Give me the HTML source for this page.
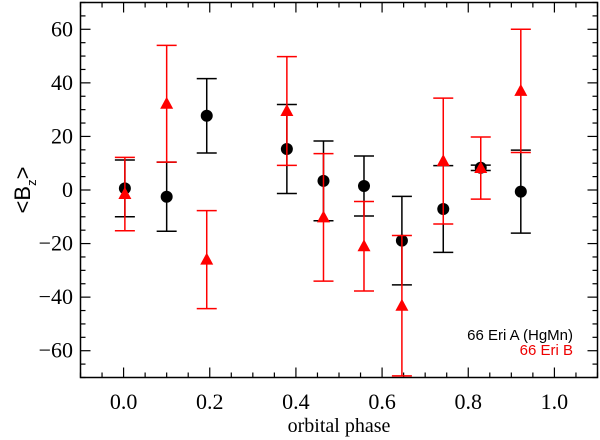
<!DOCTYPE html>
<html><head><meta charset="utf-8"><style>
html,body{margin:0;padding:0;background:#fff;}
svg{display:block;}
.serif{font-family:"Liberation Serif","DejaVu Serif",serif;}
.sans{font-family:"Liberation Sans","DejaVu Sans",sans-serif;}
</style></head><body>
<svg id="chart" width="600" height="440" xmlns="http://www.w3.org/2000/svg"></svg>
<script>
const phaseA = [0.003, 0.100, 0.193, 0.379, 0.464, 0.558, 0.646, 0.742, 0.829, 0.922];
const bzA    = [0.6, -2.5, 27.7, 15.3, 3.4, 1.5, -18.9, -7.1, 8.3, -0.6];
const errA   = [10.6, 12.9, 13.9, 16.6, 14.9, 11.2, 16.5, 16.2, 1, 15.5];
const phaseB = [0.003, 0.100, 0.193, 0.379, 0.464, 0.558, 0.646, 0.742, 0.829, 0.922];
const bzB    = [-1.5, 32.2, -26.0, 29.5, -10.2, -21.0, -43.2, 10.8, 8.2, 37.0];
const errB   = [13.7, 21.8, 18.3, 20.3, 23.8, 16.7, 26.2, 23.5, 11.6, 23.0];
const xTicks = [0.0, 0.2, 0.4, 0.6, 0.8, 1.0];
const xTickLabels = ["0.0","0.2","0.4","0.6","0.8","1.0"];
const yTicks = [-60, -40, -20, 0, 20, 40, 60];
const yTickLabels = ["\u221260","\u221240","\u221220","0","20","40","60"];

const L=80.5, R=597.5, T=2.5, B=377.5;
const xMin=-0.1, xMax=1.1, yMin=-70, yMax=70;
const sx = v => L + (v - xMin) / (xMax - xMin) * (R - L);
const sy = v => B - (v - yMin) / (yMax - yMin) * (B - T);
const svg = document.getElementById('chart');
const NS = 'http://www.w3.org/2000/svg';
function mk(tag, attrs, parent){
  const e = document.createElementNS(NS, tag);
  for (const k in attrs) e.setAttribute(k, attrs[k]);
  (parent || svg).appendChild(e);
  return e;
}
const frame = mk('rect', {x:L, y:T, width:R-L, height:B-T, fill:'none', stroke:'#000', 'stroke-width':1.5});



const tg = mk('g', {stroke:'#000', 'stroke-width':1.2});


for (let i = -2; i <= 22; i++) {
  const v = i * 0.05;
  if (v < xMin - 1e-9 || v > xMax + 1e-9) continue;
  const major = i % 4 === 0;
  const len = major ? 10 : 5;
  const x = sx(v);
  mk('line', {x1:x, y1:B, x2:x, y2:B-len}, tg);
  mk('line', {x1:x, y1:T, x2:x, y2:T+len}, tg);
}
for (let v = -70; v <= 70; v += 5) {
  const major = v % 20 === 0;
  const len = major ? 10 : 5;
  const y = sy(v);
  mk('line', {x1:L, y1:y, x2:L+len, y2:y}, tg);
  mk('line', {x1:R, y1:y, x2:R-len, y2:y}, tg);
}
xTicks.forEach((v, i) => {
  const t = mk('text', {x:sx(v), y:409, 'text-anchor':'middle', class:'serif', 'font-size':22, fill:'#000'});
  t.textContent = xTickLabels[i];
  
  
});
yTicks.forEach((v, i) => {
  const t = mk('text', {x:73, y:sy(v)+7, 'text-anchor':'end', class:'serif', 'font-size':22, fill:'#000'});
  t.textContent = yTickLabels[i];
  
  
});
const xt = mk('text', {x:339, y:432, 'text-anchor':'middle', class:'serif', 'font-size':20, fill:'#000'});
xt.textContent = 'orbital phase';


const yt = mk('text', {x:0, y:0, 'text-anchor':'middle', class:'sans', 'font-size':22, fill:'#000', transform:'translate(30,190) rotate(-90)'});
yt.innerHTML = '&lt;B<tspan font-size="13" dy="6">z</tspan><tspan dy="-6">&gt;</tspan>';



function series(px, py, pe, color, kind, name){
  const g = mk('g', {});
  
  
  px.forEach((p, i) => {
    const x = sx(p), y = sy(py[i]), y1 = sy(py[i] + pe[i]), y2 = sy(py[i] - pe[i]);
    const eb = mk('path', {d:`M${x},${y1}V${y2}M${x-10},${y1}H${x+10}M${x-10},${y2}H${x+10}`, stroke:color, 'stroke-width':1.5, fill:'none'}, g);
    
    
    let m;
    if (kind === 'circle') {
      m = mk('circle', {cx:x, cy:y, r:6, fill:color}, g);
    } else {
      m = mk('path', {d:`M${x},${y-7}L${x+6.5},${y+5}L${x-6.5},${y+5}Z`, fill:color}, g);
    }
    
    
  });
}
series(phaseA, bzA, errA, '#000', 'circle', 'series-66-eri-a');
series(phaseB, bzB, errB, '#f00', 'tri', 'series-66-eri-b');

const l1 = mk('text', {x:573, y:340, 'text-anchor':'end', class:'sans', 'font-size':15, fill:'#000'});
l1.textContent = '66 Eri A (HgMn)';


const l2 = mk('text', {x:573, y:355, 'text-anchor':'end', class:'sans', 'font-size':15, fill:'#e00'});
l2.textContent = '66 Eri B';


</script>
</body></html>
